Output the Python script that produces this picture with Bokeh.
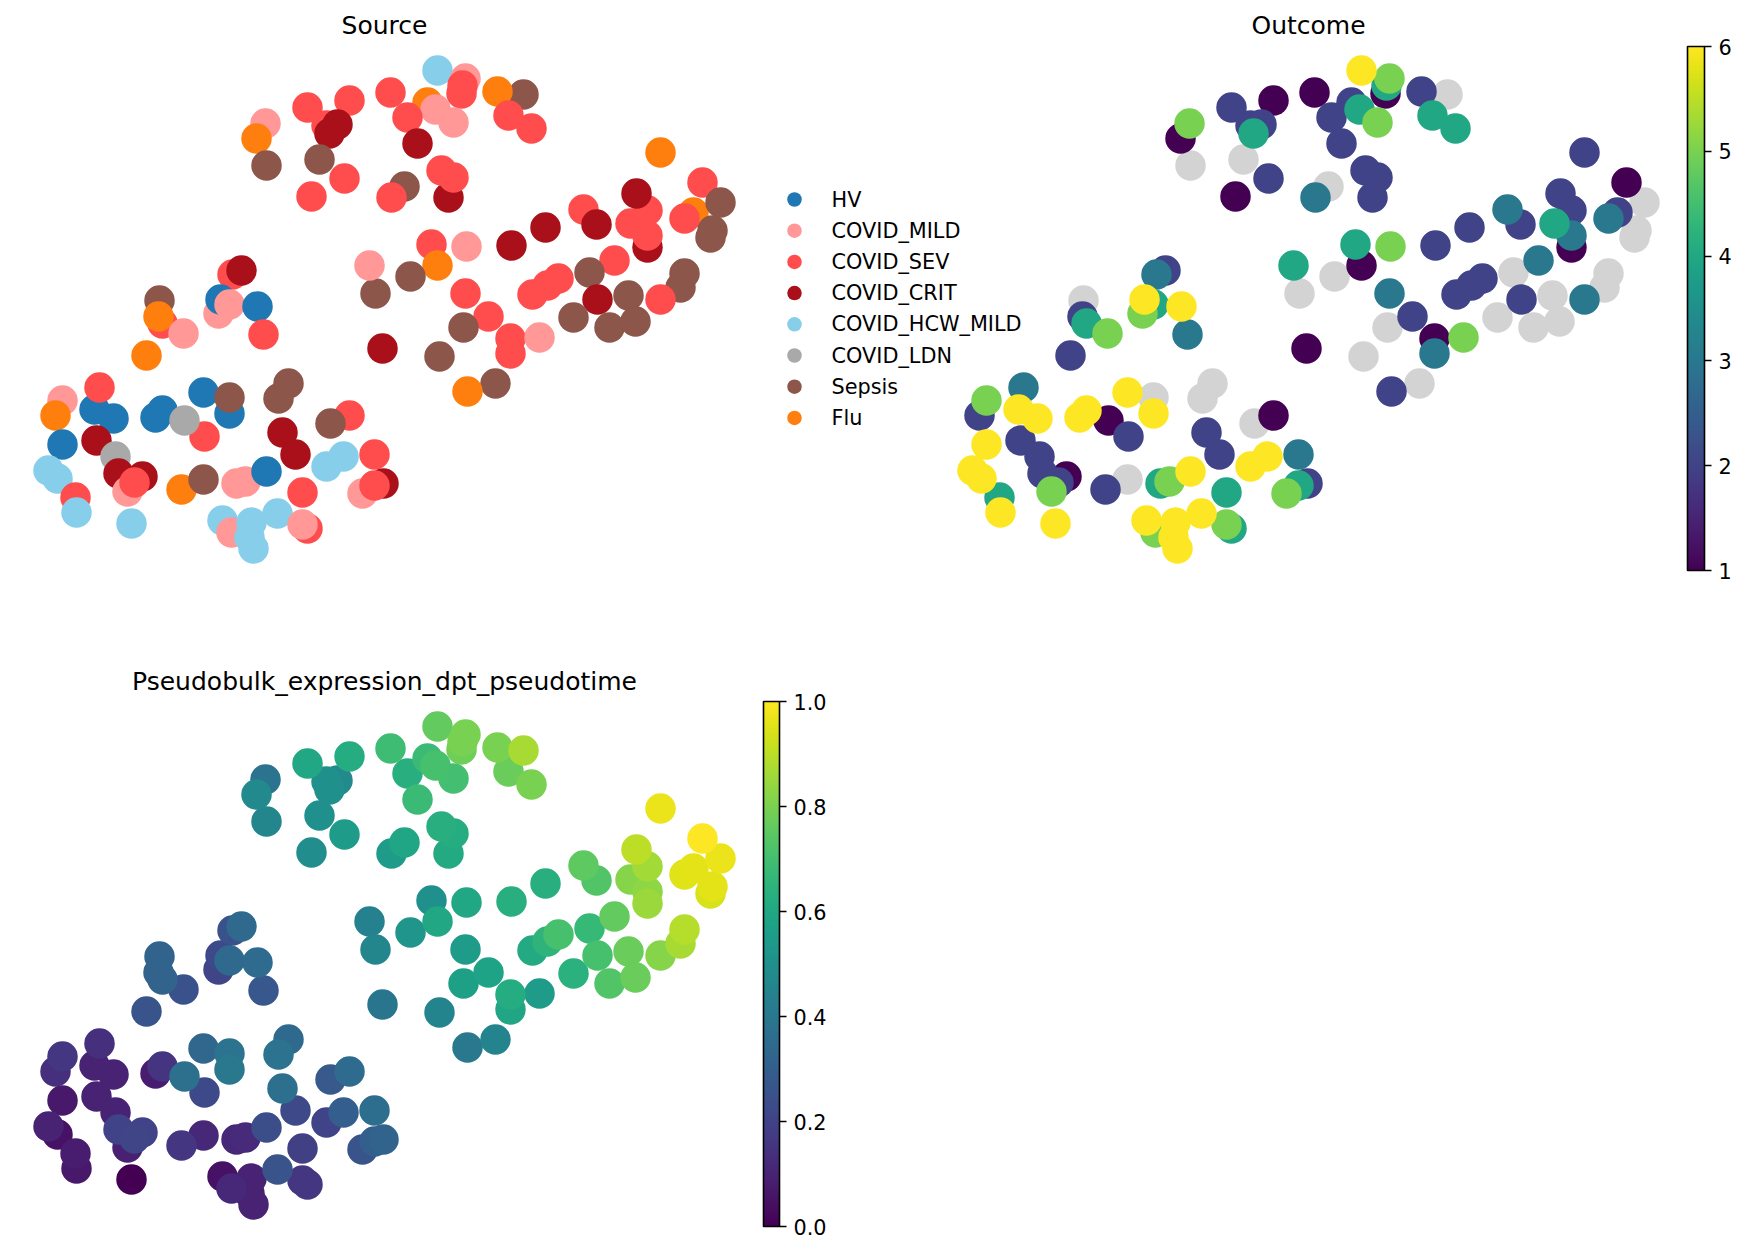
import numpy as np
import pandas as pd
from bokeh.plotting import figure
from bokeh.models import (Range1d, ColorBar, LinearColorMapper, FixedTicker,
                          PrintfTickFormatter, Label, ColumnDataSource)
from bokeh.layouts import column
from bokeh.palettes import Viridis256
from bokeh.core.properties import value
from bokeh.embed import file_html
from bokeh.resources import INLINE

nan = float("nan")

# Sample groups and their colours
categories = ["HV", "COVID_MILD", "COVID_SEV", "COVID_CRIT", "COVID_HCW_MILD",
              "COVID_LDN", "Sepsis", "Flu"]
category_colors = ["#1f77b4", "#ff9896", "#ff4d4d", "#a91019", "#87ceeb",
                   "#a9a9a9", "#8c564b", "#ff7f0e"]

# Pseudobulk embedding (second coordinate grows downward)
umap1 = [265, 256, 266, 307, 349, 326, 337, 329, 319, 344, 311, 390, 437, 461, 465, 462,
         427, 435, 453, 407, 523, 497, 508, 531, 417, 448, 441, 453, 404, 391,
         660, 702, 693, 720, 684, 712, 710, 647, 636, 583, 596, 647, 630, 647, 545, 511,
         431, 466, 437, 410, 375, 369, 465, 488, 614, 589, 680, 684, 558, 547, 532, 597,
         628, 660, 573, 609, 635, 463, 510, 510, 539, 439, 495, 467, 382,
         232, 241, 159, 162, 158, 183, 146, 218, 220, 229, 257, 263,
         62, 55, 94, 113, 99, 62, 96, 115, 155, 162, 204, 184, 203, 229, 229,
         288, 278, 282, 295, 349, 330,
         48, 57, 75, 76, 118, 142, 127, 134, 131, 181, 203, 236, 245, 266, 302,
         326, 343, 374, 383, 362, 374, 222, 231, 251, 249, 253, 277, 307, 302]
umap2 = [123, 138, 165, 107, 100, 125, 124, 133, 159, 178, 196, 92, 70, 93, 78, 85,
         102, 109, 122, 117, 94, 91, 115, 128, 143, 197, 170, 177, 186, 197,
         152, 182, 212, 202, 218, 230, 237, 210, 193, 209, 224, 247, 223, 235, 227, 245,
         244, 246, 265, 276, 293, 265, 293, 316, 260, 272, 287, 273, 278, 285, 294, 299,
         295, 299, 317, 327, 321, 327, 338, 353, 337, 356, 383, 391, 348,
         274, 270, 300, 323, 316, 333, 355, 313, 299, 304, 306, 334,
         400, 415, 409, 418, 387, 444, 440, 456, 417, 410, 436, 420, 392, 413, 397,
         383, 398, 432, 454, 415, 423,
         470, 478, 497, 512, 473, 476, 491, 482, 523, 489, 479, 483, 481, 471, 492,
         466, 456, 454, 483, 493, 485, 520, 532, 522, 537, 548, 513, 528, 524]
source = ["COVID_MILD", "Flu", "Sepsis", "COVID_SEV", "COVID_SEV", "COVID_SEV", "COVID_CRIT",
          "COVID_CRIT", "Sepsis", "COVID_SEV", "COVID_SEV", "COVID_SEV", "COVID_HCW_MILD",
          "COVID_SEV", "COVID_MILD", "COVID_SEV",
          "Flu", "COVID_MILD", "COVID_MILD", "COVID_SEV", "Sepsis", "Flu", "COVID_SEV",
          "COVID_SEV", "COVID_CRIT", "COVID_CRIT", "COVID_SEV", "COVID_SEV", "Sepsis", "COVID_SEV",
          "Flu", "COVID_SEV", "Flu", "Sepsis", "COVID_SEV", "Sepsis", "Sepsis", "COVID_SEV",
          "COVID_CRIT", "COVID_SEV", "COVID_CRIT", "COVID_CRIT", "COVID_SEV", "COVID_SEV",
          "COVID_CRIT", "COVID_CRIT",
          "COVID_SEV", "COVID_MILD", "Flu", "Sepsis", "Sepsis", "COVID_MILD", "COVID_SEV",
          "COVID_SEV", "COVID_SEV", "Sepsis", "Sepsis", "Sepsis", "COVID_SEV", "COVID_SEV",
          "COVID_SEV", "COVID_CRIT",
          "Sepsis", "COVID_SEV", "Sepsis", "Sepsis", "Sepsis", "Sepsis", "COVID_SEV",
          "COVID_SEV", "COVID_MILD", "Sepsis", "Sepsis", "Flu", "COVID_CRIT",
          "COVID_SEV", "COVID_CRIT", "Sepsis", "COVID_SEV", "Flu", "COVID_MILD", "Flu",
          "COVID_MILD", "HV", "COVID_MILD", "HV", "COVID_SEV",
          "COVID_MILD", "Flu", "HV", "HV", "COVID_SEV", "HV", "COVID_CRIT", "COVID_LDN",
          "HV", "HV", "COVID_SEV", "COVID_LDN", "HV", "HV", "Sepsis",
          "Sepsis", "Sepsis", "COVID_CRIT", "COVID_CRIT", "COVID_SEV", "Sepsis",
          "COVID_HCW_MILD", "COVID_HCW_MILD", "COVID_SEV", "COVID_HCW_MILD", "COVID_CRIT",
          "COVID_CRIT", "COVID_MILD", "COVID_SEV", "COVID_HCW_MILD", "Flu", "Sepsis",
          "COVID_MILD", "COVID_MILD", "HV", "COVID_SEV",
          "COVID_HCW_MILD", "COVID_HCW_MILD", "COVID_SEV", "COVID_CRIT", "COVID_MILD",
          "COVID_SEV", "COVID_HCW_MILD", "COVID_MILD", "COVID_HCW_MILD", "COVID_HCW_MILD",
          "COVID_HCW_MILD", "COVID_HCW_MILD", "COVID_SEV", "COVID_MILD"]
outcome = [5, 1, nan, 2, 1, 2, 2, 4, nan, 2, 1, 1, 6, 1, 5, 4,
           2, 4, 5, 2, nan, 2, 4, 4, 2, 2, 2, 2, nan, 3,
           2, 1, 2, nan, 3, nan, nan, 2, 2, 3, 2, 1, 4, 3, 2, 2,
           4, 5, 1, nan, nan, 4, 3, 2, 3, nan, nan, nan, 2, 2, 2, 2,
           nan, 3, nan, nan, nan, nan, 1, 3, 5, nan, nan, 2, 1,
           3, 2, nan, 4, 2, 5, 2, 5, 6, 4, 6, 3,
           5, 2, 6, 6, 3, 6, 2, 2, 6, 6, 2, 1, 6, 6, nan,
           nan, nan, 2, 2, 1, nan,
           6, 6, 4, 6, 2, 1, 5, 2, 6, 2, nan, 4, 5, 6, 4,
           6, 6, 3, 2, 5, 4, 6, 5, 6, 6, 6, 6, 4, 5]
pseudotime = [0.38, 0.48, 0.46, 0.60, 0.62, 0.50, 0.47, 0.50, 0.50, 0.55, 0.49, 0.69, 0.76,
              0.78, 0.80, 0.80,
              0.68, 0.71, 0.70, 0.63, 0.87, 0.80, 0.77, 0.80, 0.68, 0.61, 0.63, 0.62, 0.59,
              0.55,
              0.97, 1.00, 0.96, 0.97, 0.95, 0.96, 0.94, 0.86, 0.90, 0.75, 0.73, 0.85, 0.82,
              0.83, 0.63, 0.63,
              0.50, 0.60, 0.60, 0.52, 0.46, 0.44, 0.55, 0.58, 0.76, 0.67, 0.87, 0.89, 0.71,
              0.65, 0.61, 0.71,
              0.77, 0.82, 0.64, 0.73, 0.77, 0.57, 0.62, 0.59, 0.55, 0.45, 0.45, 0.40, 0.39,
              0.25, 0.34, 0.32, 0.32, 0.32, 0.25, 0.26, 0.21, 0.22, 0.34, 0.35, 0.27,
              0.16, 0.14, 0.10, 0.10, 0.14, 0.07, 0.10, 0.10, 0.08, 0.15, 0.22, 0.37, 0.33,
              0.40, 0.38,
              0.34, 0.38, 0.37, 0.22, 0.35, 0.28,
              0.10, 0.05, 0.08, 0.07, 0.20, 0.20, 0.09, 0.21, 0.00, 0.16, 0.11, 0.11, 0.12,
              0.24, 0.19,
              0.20, 0.30, 0.36, 0.32, 0.26, 0.30, 0.05, 0.11, 0.10, 0.09, 0.10, 0.26, 0.16,
              0.16]

df = pd.DataFrame(dict(umap1=umap1, umap2=umap2, source=source,
                       outcome=outcome, pseudotime=pseudotime))
df["color"] = df["source"].map(dict(zip(categories, category_colors)))

FONT = "DejaVu Sans"
LABEL_SIZE = "20.8px"
TITLE_SIZE = "25px"
W, H = 1746, 627
POINT = 30.5


def make_canvas(y_start, y_end):
    fig = figure(width=W, height=H, x_range=Range1d(0, W), y_range=Range1d(y_start, y_end),
                 x_axis_location=None, y_axis_location=None, min_border=0,
                 output_backend="svg", toolbar_location=None)
    fig.grid.visible = False
    fig.outline_line_color = None
    return fig


def add_title(fig, text, **kw):
    fig.add_layout(Label(x=384, y=25, text=text, text_align="center", text_baseline="middle",
                         text_font=FONT, text_font_size=TITLE_SIZE, text_color="black", **kw))


def style_colorbar(cb):
    cb.padding = 0
    cb.margin = 0
    cb.bar_line_color = "black"
    cb.bar_line_width = 1.6
    cb.major_tick_line_color = "black"
    cb.major_tick_line_width = 1.6
    cb.major_tick_in = 0
    cb.major_tick_out = 7
    cb.minor_tick_line_color = None
    cb.label_standoff = 7
    cb.major_label_text_font = FONT
    cb.major_label_text_font_size = LABEL_SIZE
    cb.major_label_text_color = "black"
    cb.background_fill_color = None
    cb.border_line_color = None


# ---- top row: Source (categorical) and Outcome (numeric) ----
top = make_canvas(H, 0)
top.extra_x_ranges = {"outcome": Range1d(-924, W - 924)}

top.scatter("umap1", "umap2", source=ColumnDataSource(df), size=POINT,
            fill_color="color", line_color=None)
add_title(top, "Source")

legend_src = ColumnDataSource(dict(
    x=[794] * len(categories),
    y=[199 + 31.2 * i for i in range(len(categories))],
    label=categories, color=category_colors))
top.scatter("x", "y", source=legend_src, size=14.5, fill_color="color", line_color=None)
top.text("x", "y", text="label", source=legend_src, x_offset=37,
         text_font=value(FONT), text_font_size=value(LABEL_SIZE),
         text_baseline="middle", text_align="left", text_color="black")

out_df = df.sort_values("outcome", na_position="first", kind="mergesort")
out_map = LinearColorMapper(palette=Viridis256, low=1, high=6, nan_color="lightgray")
top.scatter("umap1", "umap2", source=ColumnDataSource(out_df), x_range_name="outcome",
            size=POINT, fill_color={"field": "outcome", "transform": out_map}, line_color=None)
add_title(top, "Outcome", x_range_name="outcome")

out_cb = ColorBar(color_mapper=out_map, ticker=FixedTicker(ticks=[1, 2, 3, 4, 5, 6]),
                  location=(1687, 57), width=17, height=524)
style_colorbar(out_cb)
top.add_layout(out_cb)

# ---- bottom row: diffusion pseudotime ----
bottom = make_canvas(H - 29, -29)
pt_df = df.sort_values("pseudotime", kind="mergesort")
pt_map = LinearColorMapper(palette=Viridis256, low=0, high=1)
bottom.scatter("umap1", "umap2", source=ColumnDataSource(pt_df), size=POINT,
               fill_color={"field": "pseudotime", "transform": pt_map}, line_color=None)
add_title(bottom, "Pseudobulk_expression_dpt_pseudotime")

pt_cb = ColorBar(color_mapper=pt_map, ticker=FixedTicker(ticks=[0, 0.2, 0.4, 0.6, 0.8, 1.0]),
                 formatter=PrintfTickFormatter(format="%.1f"),
                 location=(763, 28), width=16, height=525)
style_colorbar(pt_cb)
bottom.add_layout(pt_cb)

layout = column(top, bottom, spacing=0)
open("out.html", "w").write(file_html(layout, INLINE))
